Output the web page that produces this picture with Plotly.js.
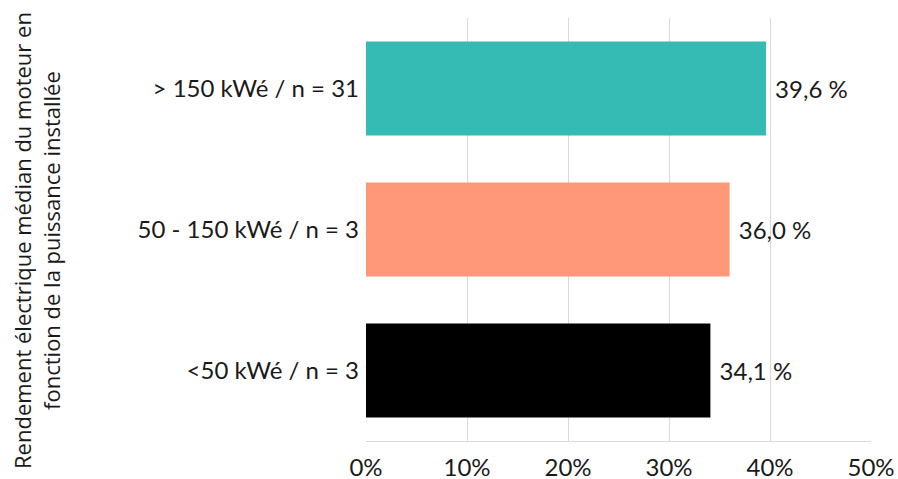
<!DOCTYPE html>
<html>
<head>
<meta charset="utf-8">
<script src="https://cdn.plot.ly/plotly-3.0.1.min.js"></script>
<style>html,body{margin:0;padding:0;background:#fff;}#chart{width:898px;height:479px;}</style>
</head>
<body>
<div id="chart"></div>
<script>
const categories = ["<50 kWé / n = 3", "50 - 150 kWé / n = 3", "> 150 kWé / n = 31"];
const values = [34.1, 36.0, 39.6];
const valueLabels = ["34,1 %", "36,0 %", "39,6 %"];
const barColors = ["#000000", "#FF9878", "#35BAB4"];
const xTicks = [0, 10, 20, 30, 40, 50];
const xTickLabels = ["0%", "10%", "20%", "30%", "40%", "50%"];
const yTitle = "Rendement électrique médian du moteur en<br>fonction de la puissance installée";

const L = 366, R = 27, T = 18, B = 38, W = 898, H = 479;
const plotW = W - L - R, plotH = H - T - B;

Plotly.newPlot("chart", [{
  type: "bar",
  orientation: "h",
  y: categories,
  x: values,
  marker: {color: barColors},
  text: valueLabels,
  texttemplate: " %{text}",
  textposition: "outside",
  textfont: {family: "Lato, sans-serif", size: 24, color: "#1a1a1a"},
  cliponaxis: false,
  hoverinfo: "none"
}], {
  width: W, height: H,
  margin: {l: L, r: R, t: T, b: B, pad: 0},
  paper_bgcolor: "#fff", plot_bgcolor: "#fff",
  bargap: 0.333,
  showlegend: false,
  xaxis: {
    range: [0, 50],
    tickvals: xTicks,
    ticktext: xTickLabels,
    showgrid: true, gridcolor: "#d9d9d9", gridwidth: 1,
    zeroline: false,
    showline: true, linecolor: "#d9d9d9", linewidth: 1,
    ticks: "", ticklabelstandoff: 5,
    tickfont: {family: "Lato, sans-serif", size: 24, color: "#1a1a1a"},
    fixedrange: true
  },
  yaxis: {
    type: "category",
    showgrid: false, zeroline: false,
    showline: false,
    ticks: "", ticklabelstandoff: 6,
    tickfont: {family: "Lato, sans-serif", size: 24, color: "#1a1a1a"},
    fixedrange: true
  },
  annotations: [{
    text: yTitle,
    textangle: -90,
    xref: "paper", yref: "paper",
    x: (36 - L) / plotW, y: (H - 241 - B) / plotH,
    xanchor: "center", yanchor: "middle",
    showarrow: false,
    align: "center",
    font: {family: "Open Sans, sans-serif", size: 22, color: "#1a1a1a"}
  }]
}, {displayModeBar: false, staticPlot: true});
</script>
</body>
</html>
